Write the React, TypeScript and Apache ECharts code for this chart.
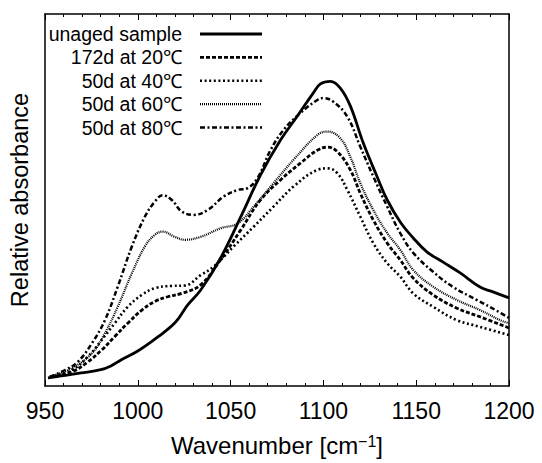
import React, { useEffect, useRef } from "react";
import * as echarts from "echarts";

// Wavenumbers [cm^-1] and relative absorbance (arbitrary units, 0-100) per series
const unagedWn = [951.6, 958.6, 969.4, 980.1, 985.5, 990.9, 1000, 1010.8, 1020.4, 1026.9, 1033.9, 1044.6, 1055.4, 1066.1, 1076.9, 1086, 1094.6, 1098.4, 1103.8, 1109.1, 1114.5, 1121.5, 1129, 1134.4, 1141.4, 1148.4, 1155.9, 1164.5, 1173.7, 1184.4, 1191.4, 1200];
const unagedAbs = [2.2, 2.7, 3.5, 4.4, 5.4, 7.0, 9.4, 13.2, 17.2, 21.8, 25.8, 34.4, 45.4, 56.7, 66.1, 72.6, 78.8, 81.2, 81.9, 80.1, 75.3, 65.3, 56.2, 50.0, 44.1, 39.8, 36.0, 33.3, 30.4, 26.6, 25.3, 23.7];

const d20Wn = [952.7, 964.5, 973.1, 980.6, 987.6, 994.6, 1002.2, 1009.1, 1016.1, 1023.7, 1033.9, 1044.6, 1055.4, 1066.1, 1076.9, 1087.6, 1096.8, 1102.2, 1107.5, 1114.5, 1119.9, 1126.9, 1134.4, 1141.4, 1148.4, 1159.1, 1172, 1184.4, 1200];
const d20Abs = [2.4, 3.8, 6.5, 9.7, 13.3, 16.9, 20.4, 22.7, 24.0, 24.9, 27.2, 33.9, 41.9, 50.0, 55.4, 59.9, 63.4, 64.2, 63.0, 58.1, 51.8, 44.6, 38.4, 33.9, 29.0, 24.5, 20.9, 18.6, 15.6];

const d40Wn = [952.7, 964.5, 973.1, 980.6, 987.6, 994.6, 1002.2, 1009.1, 1018.3, 1025.3, 1033.9, 1040.9, 1051.6, 1062.4, 1073.1, 1083.9, 1096.8, 1102.2, 1107.5, 1112.9, 1119.9, 1126.9, 1134.4, 1141.4, 1148.4, 1159.1, 1172, 1184.4, 1200];
const d40Abs = [2.4, 4.3, 7.9, 12.4, 16.9, 21.3, 24.5, 26.3, 26.9, 27.0, 29.8, 32.1, 37.5, 42.8, 48.2, 53.6, 58.1, 58.5, 57.2, 52.7, 45.5, 38.4, 33.0, 29.4, 24.9, 21.3, 17.7, 15.9, 13.7];

const d60Wn = [952.7, 964.5, 975.3, 982.3, 989.2, 996.8, 1003.8, 1009.1, 1013.4, 1019.9, 1025.3, 1033.9, 1044.6, 1053.8, 1062.4, 1073.1, 1083.9, 1096.8, 1102.2, 1109.1, 1114.5, 1119.9, 1126.9, 1134.4, 1141.4, 1148.4, 1159.1, 1172, 1184.4, 1195.2, 1200];
const d60Abs = [2.5, 4.8, 8.8, 14.2, 21.3, 30.3, 37.5, 40.6, 41.5, 40.1, 39.3, 40.1, 42.4, 43.7, 48.2, 54.5, 60.8, 67.5, 68.4, 66.6, 61.6, 54.5, 47.3, 41.1, 36.6, 31.2, 26.7, 23.1, 20.4, 17.7, 16.9];

const d80Wn = [952.7, 960.8, 967.7, 975.3, 982.3, 989.2, 996.8, 1003.8, 1009.1, 1013.4, 1018.3, 1023.7, 1030.1, 1037.6, 1046.2, 1053.8, 1059.1, 1064.5, 1071.5, 1078.5, 1087.6, 1096.8, 1100, 1105.4, 1112.9, 1119.9, 1126.9, 1134.4, 1141.4, 1148.4, 1159.1, 1169.9, 1182.8, 1193.5, 1200];
const d80Abs = [2.5, 4.3, 6.5, 11.5, 17.7, 26.7, 37.5, 45.5, 49.5, 51.3, 50.0, 46.9, 46.0, 47.3, 50.9, 52.7, 53.2, 55.9, 63.4, 68.8, 73.4, 76.9, 77.4, 76.4, 72.4, 64.3, 56.3, 48.2, 41.1, 35.8, 30.7, 26.6, 23.1, 20.2, 18.3];

const seriesNames = ["unaged sample", "172d at 20\u2103", "50d at 40\u2103", "50d at 60\u2103", "50d at 80\u2103"];
const xTicks = [950, 1000, 1050, 1100, 1150, 1200];

const FONT = '"Liberation Sans", Arial, Helvetica, sans-serif';

const styles = [
  { width: 2.8, type: "solid" as any },
  { width: 2.8, type: [4, 2] as any },
  { width: 2.6, type: [2, 2.6] as any },
  { width: 2.2, type: [1, 1] as any },
  { width: 2.5, type: [5, 2.5, 2, 2.5] as any },
];

function zip(a: number[], b: number[]) {
  return a.map((x, i) => [x, b[i]]);
}

export default function App() {
  const ref = useRef<HTMLDivElement>(null);
  useEffect(() => {
    document.body.style.margin = "0";
    if (!ref.current) return;
    const chart = echarts.init(ref.current, undefined, { renderer: "svg" });
    const datasets = [
      zip(unagedWn, unagedAbs),
      zip(d20Wn, d20Abs),
      zip(d40Wn, d40Abs),
      zip(d60Wn, d60Abs),
      zip(d80Wn, d80Abs),
    ];
    const axisLine = { show: true, onZero: false, lineStyle: { color: "#000", width: 1.5 } };
    const legendX1 = 200, legendX2 = 262, legendTextX = 182, legendY0 = 34, legendDy = 23.4;
    const graphicEls: any[] = [];
    seriesNames.forEach((n, i) => {
      const y = legendY0 + i * legendDy;
      graphicEls.push({
        type: "text",
        x: legendTextX,
        y: y,
        style: {
          text: n,
          fill: "#000",
          font: `19.5px ${FONT}`,
          textAlign: "right",
          textVerticalAlign: "middle",
          align: "right",
          verticalAlign: "middle",
        },
      });
      graphicEls.push({
        type: "line",
        shape: { x1: legendX1, y1: y, x2: legendX2, y2: y },
        style: {
          stroke: "#000",
          lineWidth: styles[i].width,
          lineDash: styles[i].type === "solid" ? null : styles[i].type,
        },
      });
    });
    chart.setOption({
      animation: false,
      grid: { left: 44, right: 33, top: 14, bottom: 77 },
      xAxis: [
        {
          type: "value",
          min: xTicks[0],
          max: xTicks[xTicks.length - 1],
          interval: 50,
          position: "bottom",
          axisLine,
          axisTick: { show: true, inside: true, length: 6, lineStyle: { color: "#000", width: 1 } },
          minorTick: { show: true, splitNumber: 5, length: 3, lineStyle: { color: "#000", width: 1 } },
          axisLabel: { fontSize: 23, color: "#000", margin: 13, fontFamily: FONT, formatter: (v: number) => String(v) },
          splitLine: { show: false },
          name: "Wavenumber [cm{sup|\u22121}]",
          nameLocation: "middle",
          nameGap: 47,
          nameTextStyle: {
            fontSize: 24,
            color: "#000",
            fontFamily: FONT,
            rich: {
              sup: { fontSize: 16, color: "#000", fontFamily: FONT, verticalAlign: "top", padding: [0, 0, 8, 0] },
            },
          },
        },
        {
          type: "value",
          min: xTicks[0],
          max: xTicks[xTicks.length - 1],
          interval: 50,
          position: "top",
          axisLine,
          axisTick: { show: true, inside: true, length: 6, lineStyle: { color: "#000", width: 1 } },
          minorTick: { show: true, splitNumber: 5, length: 3, lineStyle: { color: "#000", width: 1 } },
          axisLabel: { show: false },
          splitLine: { show: false },
        },
      ],
      yAxis: [
        {
          type: "value",
          min: 0,
          max: 100,
          position: "left",
          axisLine,
          axisTick: { show: false },
          axisLabel: { show: false },
          splitLine: { show: false },
          name: "Relative absorbance",
          nameLocation: "middle",
          nameGap: 13,
          nameTextStyle: { fontSize: 23.5, color: "#000", fontFamily: FONT },
        },
        {
          type: "value",
          min: 0,
          max: 100,
          position: "right",
          axisLine,
          axisTick: { show: false },
          axisLabel: { show: false },
          splitLine: { show: false },
        },
      ],
      series: datasets.map((d, i) => ({
        name: seriesNames[i],
        type: "line",
        data: d,
        showSymbol: false,
        smooth: 0.4,
        clip: true,
        lineStyle: { color: "#000", width: styles[i].width, type: styles[i].type },
        z: 10 - i,
      })),
      graphic: graphicEls,
    });
    return () => chart.dispose();
  }, []);
  return <div ref={ref} style={{ width: 542, height: 463 }} />;
}
